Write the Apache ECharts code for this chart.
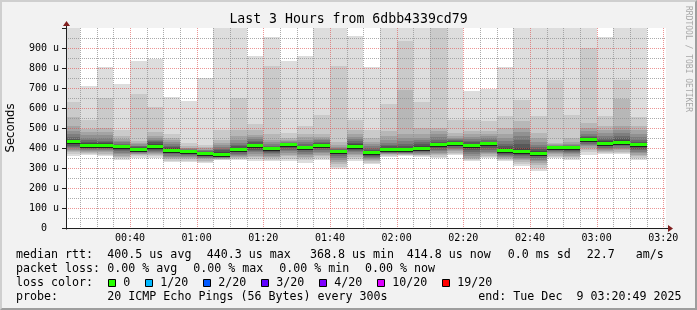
<!DOCTYPE html>
<html>
<head>
<meta charset="utf-8">
<script src="https://cdn.jsdelivr.net/npm/echarts@6/dist/echarts.min.js"></script>
<style>
html,body{margin:0;padding:0;background:#f2f2f2;}
#wrap{position:relative;width:697px;height:310px;overflow:hidden;}
#chart{position:absolute;left:0;top:0;width:697px;height:310px;}
#frame{position:absolute;left:0;top:0;width:697px;height:310px;box-sizing:border-box;
  border-top:2px solid #cfcfcf;border-left:2px solid #cfcfcf;border-right:2px solid #9e9e9e;border-bottom:2px solid #9e9e9e;pointer-events:none;}
</style>
</head>
<body>
<div id="wrap"><div id="chart"></div><div id="frame"></div></div>
<script>
// ---------------- data ----------------
const titleText = 'Last 3 Hours from 6dbb4339cd79';
const endText = 'end: Tue Dec  9 03:20:49 2025';
const endTime = '03:20:49';
const spanMinutes = 180;
const stepMinutes = 5;

const slotLabels = ['00:20','00:25','00:30','00:35','00:40','00:45','00:50','00:55',
  '01:00','01:05','01:10','01:15','01:20','01:25','01:30','01:35','01:40','01:45','01:50','01:55',
  '02:00','02:05','02:10','02:15','02:20','02:25','02:30','02:35','02:40','02:45','02:50','02:55',
  '03:00','03:05','03:10'];

// median rtt per slot (microseconds)
const medians = [431,415,413,406,395,406,389,381,371,370,395,411,396,416,402,415,384,406,376,391,
  391,399,416,425,413,421,387,381,375,401,401,441,425,430,416];

// 20 pings per slot, highest to lowest (microseconds)
const pingsHighToLow = [
  [1050,631,553,508,486,470,455,445,440,435,428,420,412,405,398,392,385,378,370,362],
  [711,541,497,480,463,450,440,432,425,419,412,405,400,395,390,385,380,373,368,363],
  [803,648,500,480,463,448,437,430,423,417,410,404,399,394,389,384,378,372,366,361],
  [721,490,460,445,435,428,422,417,413,409,403,397,390,383,376,370,362,355,348,341],
  [836,671,433,425,418,412,408,404,401,398,392,388,384,380,376,372,368,364,358,350],
  [846,606,480,460,450,442,435,428,420,412,400,395,390,385,380,376,372,366,358,350],
  [655,470,450,440,430,420,412,405,398,392,386,380,374,368,362,356,350,343,336,328],
  [636,425,410,402,398,394,390,387,385,383,379,374,369,364,360,355,350,344,336,328],
  [751,417,405,398,392,388,384,380,377,374,368,364,360,356,352,348,343,337,330,323],
  [1050,491,440,425,415,405,396,388,382,375,366,362,358,355,352,349,346,343,340,338],
  [1050,648,491,460,440,425,415,408,402,398,392,385,378,372,366,360,354,348,343,338],
  [861,520,492,467,455,445,437,430,422,415,407,400,392,385,378,370,362,354,345,333],
  [956,808,470,440,430,420,412,405,400,398,393,388,382,375,368,361,355,348,341,333],
  [836,475,450,442,436,431,427,423,420,418,414,408,400,392,384,376,367,358,345,333],
  [861,508,470,455,440,430,420,412,407,404,400,395,388,380,372,364,356,348,338,325],
  [1050,566,470,455,445,438,432,427,422,418,412,405,398,390,382,374,366,358,348,338],
  [1050,808,430,415,405,400,396,392,390,387,381,375,368,360,350,340,330,318,305,295],
  [958,538,492,470,455,445,435,425,418,410,402,396,390,384,378,371,364,356,346,336],
  [805,492,450,430,420,410,400,392,385,379,372,366,360,355,350,345,340,334,327,320],
  [1050,621,483,460,440,425,415,408,400,395,388,384,380,377,374,371,368,364,360,355],
  [1050,933,688,470,450,435,420,410,400,394,388,384,380,377,374,372,370,367,364,361],
  [1050,631,500,470,450,440,430,420,410,402,396,390,385,380,375,371,367,363,359,355],
  [1050,1050,500,483,470,455,440,432,425,419,413,405,398,390,383,376,370,363,357,350],
  [1050,538,475,460,450,445,440,435,430,427,423,415,408,400,394,388,383,377,372,366],
  [683,538,483,470,455,445,435,428,420,416,410,400,390,380,370,360,352,346,340,333],
  [696,533,483,470,458,448,440,432,427,423,419,410,400,390,382,375,368,362,356,350],
  [805,561,500,470,450,435,420,408,398,390,384,378,372,366,360,355,350,345,340,333],
  [1050,638,533,500,480,460,440,420,400,385,377,370,364,358,352,346,340,332,322,311],
  [1050,558,475,450,430,415,405,395,385,378,372,365,358,350,342,334,326,315,300,283],
  [1050,741,425,418,413,410,407,405,403,402,399,394,388,383,378,373,368,362,356,350],
  [1050,566,450,430,420,414,410,407,404,402,399,393,387,380,374,368,362,355,348,341],
  [1050,900,525,500,483,470,460,455,448,443,438,433,428,422,416,410,402,392,380,366],
  [955,561,508,490,475,462,450,440,433,428,422,415,408,400,395,390,385,380,375,370],
  [1050,738,645,508,490,475,460,448,440,433,427,420,414,408,400,394,388,382,376,371],
  [1050,555,508,490,470,455,440,430,423,419,413,405,397,390,382,374,366,358,350,341]
];

const xTickLabels = ['00:40','01:00','01:20','01:40','02:00','02:20','02:40','03:00','03:20'];
const yMax = 1000;
const yMajor = 100;
const yMinor = 50;
const xMinor = 5;
const xMajor = 20;

const statsRow1 = ['median rtt:', '400.5 us avg', '440.3 us max', '368.8 us min', '414.8 us now', '0.0 ms sd', '22.7', 'am/s'];
const statsRow2 = ['packet loss:', '0.00 % avg', '0.00 % max', '0.00 % min', '0.00 % now'];
const lossLabels = ['0', '1/20', '2/20', '3/20', '4/20', '10/20', '19/20'];
const lossColors = ['#26ff00', '#00b8ff', '#0059ff', '#5e00ff', '#7e00ff', '#dd00ff', '#ff0000'];
const probeRow = ['probe:', '20 ICMP Echo Pings (56 Bytes) every 300s'];

// ---------------- layout / style ----------------
const row1X = [16, 107.3, 206.7, 310, 406.7, 507.7, 586.7, 635.7];
const row2X = [16, 107.3, 193.3, 279.3, 365];
const rowY = [254.5, 268.5, 282.5, 296.5];
const MONO = '"DejaVu Sans Mono", monospace';
const LEG_FONT = '11.65px ' + MONO;
const CH = 7.0;
const SMOKE = ['#dddddd','#cacaca','#b7b7b7','#a4a4a4','#919191','#7e7e7e','#6b6b6b','#585858','#454545','#323232'];
const GRID_MINOR = 'rgba(143,143,143,0.75)';
const GRID_MAJOR = 'rgba(222,79,79,0.6)';
const AXIS_COL = '#1f1f1f';
const ARROW_COL = '#801f1f';

const toMin = s => { const p = s.split(':').map(Number); return p[0]*60 + p[1] + (p[2]||0)/60; };
const fmt = v => { const h = Math.floor(v/60 + 1e-9), m = Math.round(v - h*60); return String(h).padStart(2,'0') + ':' + String(m).padStart(2,'0'); };

const END = toMin(endTime);
const START = END - spanMinutes;
const slotMinutes = slotLabels.map(toMin);
const xTickMinutes = xTickLabels.map(toMin);

const gridX = [];
for (let t = Math.ceil(START / xMinor) * xMinor; t <= END; t += xMinor) gridX.push(t);
const gridY = [];
for (let v = yMinor; v < yMax; v += yMinor) gridY.push(v);

function clipTo(cs, r) {
  return echarts.graphic.clipRectByRect(r, {x: cs.x, y: cs.y, width: cs.width, height: cs.height});
}

function renderSmoke(params, api) {
  const i = params.dataIndex;
  const row = pingsHighToLow[i];
  const t0 = slotMinutes[i], t1 = t0 + stepMinutes;
  const cs = params.coordSys;
  const children = [];
  for (let b = 0; b < 10; b++) {
    const hi = row[b], lo = row[19 - b];
    const a = api.coord([t0, hi]), c = api.coord([t1, lo]);
    const x0 = Math.round(a[0]), x1 = Math.round(c[0]);
    const y0 = Math.round(a[1]), y1 = Math.round(c[1]);
    const r = clipTo(cs, {x: x0, y: y0, width: x1 - x0, height: Math.max(1, y1 - y0)});
    if (r) children.push({type: 'rect', shape: r, style: {fill: SMOKE[b]}});
  }
  return {type: 'group', children};
}

function renderMedian(params, api) {
  const i = params.dataIndex;
  const t0 = slotMinutes[i], t1 = t0 + stepMinutes;
  const cs = params.coordSys;
  const a = api.coord([t0, api.value(1)]), c = api.coord([t1, api.value(1)]);
  const x0 = Math.round(a[0]), x1 = Math.round(c[0]);
  const yTop = Math.round(a[1] - 1.5);
  const children = [];
  const g = clipTo(cs, {x: x0, y: yTop, width: x1 - x0, height: 3});
  if (g) children.push({type: 'rect', shape: g, style: {fill: lossColors[0]}});
  const d = clipTo(cs, {x: x0, y: yTop + 3, width: x1 - x0, height: 1});
  if (d) children.push({type: 'rect', shape: d, style: {fill: '#202020'}});
  return {type: 'group', children};
}

function renderVGrid(params, api) {
  const t = api.value(0);
  const cs = params.coordSys;
  const x = Math.round(api.coord([t, 0])[0]) + 0.5;
  const major = Math.abs(t % xMajor) < 1e-6;
  return {type: 'line', shape: {x1: x, y1: cs.y, x2: x, y2: cs.y + cs.height},
    style: {stroke: major ? GRID_MAJOR : GRID_MINOR, lineWidth: 1, lineDash: [1, 1]}};
}

function renderHGrid(params, api) {
  const v = api.value(1);
  const cs = params.coordSys;
  const y = Math.round(api.coord([START, v])[1]) + 0.5;
  const major = Math.abs(v % yMajor) < 1e-6;
  return {type: 'line', shape: {x1: cs.x, y1: y, x2: cs.x + cs.width, y2: y},
    style: {stroke: major ? GRID_MAJOR : GRID_MINOR, lineWidth: 1, lineDash: [1, 1]}};
}

function renderAxes(params, api) {
  const cs = params.coordSys;
  const o = api.coord([START, 0]);
  const ox = Math.round(o[0]) + 0.5, oy = Math.round(o[1]) + 0.5;
  const xr = cs.x + cs.width + 2;
  const yt = cs.y - 2;
  return {type: 'group', children: [
    {type: 'line', shape: {x1: ox - 4, y1: oy, x2: xr + 1, y2: oy}, style: {stroke: AXIS_COL, lineWidth: 1}},
    {type: 'line', shape: {x1: ox, y1: oy + 1, x2: ox, y2: yt}, style: {stroke: AXIS_COL, lineWidth: 1}},
    {type: 'polygon', shape: {points: [[xr, oy - 3.5], [xr + 5, oy], [xr, oy + 3.5]]}, style: {fill: ARROW_COL}},
    {type: 'polygon', shape: {points: [[ox - 3.5, yt], [ox, yt - 5], [ox + 3.5, yt]]}, style: {fill: ARROW_COL}}
  ]};
}

// ---------------- legend graphics ----------------
const graphics = [];
graphics.push({type: 'text', x: 348.5, y: 19.5, style: {text: titleText, font: '13.2px ' + MONO, fill: '#000', align: 'center', verticalAlign: 'middle'}});
graphics.push({type: 'text', x: 11, y: 128, rotation: Math.PI / 2, style: {text: 'Seconds', font: '11.66px "DejaVu Sans", sans-serif', fill: '#000', align: 'center', verticalAlign: 'middle'}});
graphics.push({type: 'text', x: 688, y: 59, rotation: -Math.PI / 2, style: {text: 'RRDTOOL / TOBI OETIKER', font: '8px ' + MONO, fill: '#a8a8a8', align: 'center', verticalAlign: 'middle'}});
statsRow1.forEach((s, i) => graphics.push({type: 'text', x: row1X[i], y: rowY[0], style: {text: s, font: LEG_FONT, fill: '#000', verticalAlign: 'middle'}}));
statsRow2.forEach((s, i) => graphics.push({type: 'text', x: row2X[i], y: rowY[1], style: {text: s, font: LEG_FONT, fill: '#000', verticalAlign: 'middle'}}));
graphics.push({type: 'text', x: 16, y: rowY[2], style: {text: 'loss color:', font: LEG_FONT, fill: '#000', verticalAlign: 'middle'}});
let lx = 16 + 13 * 7.02;
lossLabels.forEach((l, i) => {
  const sx = Math.round(lx + 1);
  graphics.push({type: 'rect', shape: {x: sx + 0.5, y: Math.round(rowY[2] - 4) + 0.5, width: 7, height: 7},
    style: {fill: lossColors[i], stroke: '#000', lineWidth: 1}});
  const tx = lx + 16;
  graphics.push({type: 'text', x: tx, y: rowY[2], style: {text: l, font: LEG_FONT, fill: '#000', verticalAlign: 'middle'}});
  lx = tx + l.length * CH + 2 * CH;
});
graphics.push({type: 'text', x: 16, y: rowY[3], style: {text: probeRow[0], font: LEG_FONT, fill: '#000', verticalAlign: 'middle'}});
graphics.push({type: 'text', x: 107.3, y: rowY[3], style: {text: probeRow[1], font: LEG_FONT, fill: '#000', verticalAlign: 'middle'}});
graphics.push({type: 'text', x: 478.3, y: rowY[3], style: {text: endText, font: LEG_FONT, fill: '#000', verticalAlign: 'middle'}});

const chart = echarts.init(document.getElementById('chart'), null, {renderer: 'canvas'});
chart.setOption({
  animation: false,
  backgroundColor: '#f2f2f2',
  grid: {left: 66, top: 28, width: 600, height: 200, show: true, backgroundColor: '#ffffff', borderWidth: 0},
  xAxis: {
    type: 'value', min: START, max: END,
    axisLine: {show: false}, axisTick: {show: false}, splitLine: {show: false},
    axisLabel: {customValues: xTickMinutes, formatter: v => fmt(v), fontFamily: MONO, fontSize: 10, color: '#000', margin: 5}
  },
  yAxis: {
    type: 'value', min: 0, max: yMax, interval: yMajor,
    axisLine: {show: false}, splitLine: {show: false},
    axisTick: {show: true, length: 4, lineStyle: {color: AXIS_COL}},
    axisLabel: {formatter: v => v === 0 ? '0  ' : (v >= yMax ? '' : v + ' u'), fontFamily: MONO, fontSize: 10, color: '#000', margin: 7}
  },
  series: [
    {type: 'custom', name: 'smoke', silent: true, z: 1, renderItem: renderSmoke,
      data: slotMinutes.map((t, i) => [t, medians[i]]), encode: {x: 0, y: 1}},
    {type: 'custom', name: 'vgrid', silent: true, z: 2, renderItem: renderVGrid,
      data: gridX.map(t => [t, 0]), encode: {x: 0, y: 1}},
    {type: 'custom', name: 'hgrid', silent: true, z: 2, renderItem: renderHGrid,
      data: gridY.map(v => [START, v]), encode: {x: 0, y: 1}},
    {type: 'custom', name: 'median', silent: true, z: 3, renderItem: renderMedian,
      data: slotMinutes.map((t, i) => [t, medians[i]]), encode: {x: 0, y: 1}},
    {type: 'custom', name: 'axes', silent: true, z: 4, renderItem: renderAxes,
      data: [[START, 0]], encode: {x: 0, y: 1}}
  ],
  graphic: graphics
});
</script>
</body>
</html>
